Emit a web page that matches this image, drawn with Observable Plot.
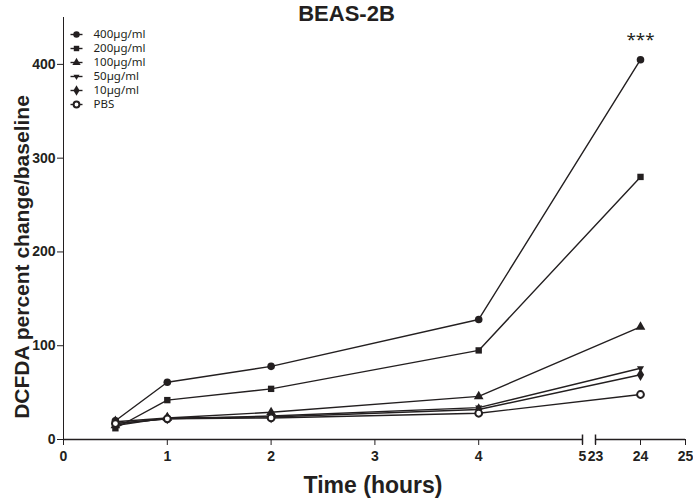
<!DOCTYPE html>
<html><head><meta charset="utf-8">
<script src="https://cdn.jsdelivr.net/npm/d3@7"></script>
<script src="https://cdn.jsdelivr.net/npm/@observablehq/plot@0.6"></script>
<style>
body{margin:0;background:#fff;}
#wrap{position:relative;width:693px;height:503px;font-family:"Liberation Sans",Arial,Helvetica,sans-serif;color:#231f20;}
#wrap svg{position:absolute;left:0;top:0;background:#fff;overflow:visible;}
.title{position:absolute;left:0;width:693px;top:2px;text-align:center;font-weight:bold;font-size:22px;line-height:24px;}
.xlab{position:absolute;left:63px;width:620px;top:472px;text-align:center;font-weight:bold;font-size:23px;line-height:26px;}
.ylab{position:absolute;left:22px;top:257px;transform:translate(-50%,-50%) rotate(-90deg);white-space:nowrap;font-weight:bold;font-size:21px;line-height:24px;}
</style>
</head><body>
<div id="wrap">
<div class="title">BEAS-2B</div>
<div class="xlab">Time (hours)</div>
<div class="ylab">DCFDA percent change/baseline</div>
</div>
<script>
const times = [0.5, 1, 2, 4, 24];
const seriesNames = ["400µg/ml", "200µg/ml", "100µg/ml", "50µg/ml", "10µg/ml", "PBS"];
const v400 = [20, 61, 78, 128, 405];
const v200 = [12, 42, 54, 95, 280];
const v100 = [15, 23, 29, 46, 120];
const v50 = [17, 22, 25, 34, 76];
const v10 = [19, 23, 24, 32, 69];
const vPBS = [17, 22, 23, 28, 48];
const xTicks = [0, 1, 2, 3, 4, 5, 23, 24, 25];
const yTicks = [0, 100, 200, 300, 400];
const xBreakDomain = [0, 5, 23, 25];
const significance = "***";

const values = [v400, v200, v100, v50, v10, vPBS];
const rows = [];
seriesNames.forEach((s, i) => times.forEach((t, j) => rows.push({series: s, t, v: values[i][j]})));

const ink = "#231f20";
const triDown = {draw(ctx, size) {const r = Math.sqrt(size / Math.PI) * 1.25; ctx.moveTo(0, r); ctx.lineTo(r * 0.866, -r / 2); ctx.lineTo(-r * 0.866, -r / 2); ctx.closePath();}};
const vline = {draw(ctx, size) {const r = Math.sqrt(size / Math.PI); ctx.moveTo(0, -r); ctx.lineTo(0, r);}};
const hline = {draw(ctx, size) {const r = Math.sqrt(size / Math.PI); ctx.moveTo(-r, 0); ctx.lineTo(r, 0);}};
const symStyles = [
  {symbol: "circle", fill: ink, stroke: "none", r: 3.8},
  {symbol: "square", fill: ink, stroke: "none", r: 3.6},
  {symbol: "triangle", fill: ink, stroke: "none", r: 3.6},
  {symbol: triDown, fill: ink, stroke: "none", r: 3.3},
  {symbol: "diamond", fill: ink, stroke: "none", r: 3.8},
  {symbol: "circle", fill: "white", stroke: ink, r: 3.4, strokeWidth: 2}
];

const marks = [
  Plot.ruleY([0], {x1: xBreakDomain[0], x2: xBreakDomain[1], stroke: ink, strokeWidth: 1.5}),
  Plot.ruleY([0], {x1: xBreakDomain[2], x2: xBreakDomain[3], stroke: ink, strokeWidth: 1.5}),
  Plot.dot([xBreakDomain[1], xBreakDomain[2]], {x: d => d, y: () => 0, symbol: vline, r: 5, stroke: ink, strokeWidth: 1.5}),
  Plot.line(rows, {x: "t", y: "v", z: "series", stroke: ink, strokeWidth: 1.4}),
];
seriesNames.forEach((s, i) => {
  const st = symStyles[i];
  marks.push(Plot.dot(rows.filter(d => d.series === s), {x: "t", y: "v", symbol: st.symbol, fill: st.fill, stroke: st.stroke, r: st.r, strokeWidth: st.strokeWidth || 1}));
  marks.push(Plot.dot({length: 1}, {frameAnchor: "top-left", dx: 13, dy: 17 + 14 * i, symbol: hline, r: 6, stroke: ink, strokeWidth: 1.4}));
  marks.push(Plot.dot({length: 1}, {frameAnchor: "top-left", dx: 13, dy: 17 + 14 * i, symbol: st.symbol, fill: st.fill, stroke: st.stroke, r: st.r * 0.85, strokeWidth: st.strokeWidth || 1}));
  marks.push(Plot.text([s], {frameAnchor: "top-left", dx: 30, dy: 17 + 14 * i, text: d => d, textAnchor: "start", lineAnchor: "middle", fontSize: 11.5, fontWeight: "normal", fill: ink}));
});
marks.push(Plot.text([{t: times[4], v: v400[4]}], {x: "t", y: "v", text: () => significance, dy: -20, fontSize: 17, fontWeight: "normal", fill: ink}));

const chart = Plot.plot({
  width: 693,
  height: 503,
  marginLeft: 63,
  marginRight: 8,
  marginTop: 17,
  marginBottom: 64,
  x: {type: "linear", domain: xBreakDomain, range: [63, 582, 595, 685], ticks: xTicks, tickFormat: d => String(d), tickSize: 6, tickPadding: 6, label: null, line: false},
  y: {domain: [0, 450], ticks: yTicks, tickFormat: d => String(d), tickSize: 6, tickPadding: 2, label: null, line: true},
  marks
});
chart.querySelectorAll('g[aria-label*="axis"] text').forEach(t => {
  t.style.fontSize = "14px";
  t.style.fontWeight = "bold";
  t.style.fontFamily = "'Liberation Sans', Arial, sans-serif";
  t.style.fill = ink;
});
document.getElementById("wrap").prepend(chart);
</script>
</body></html>
